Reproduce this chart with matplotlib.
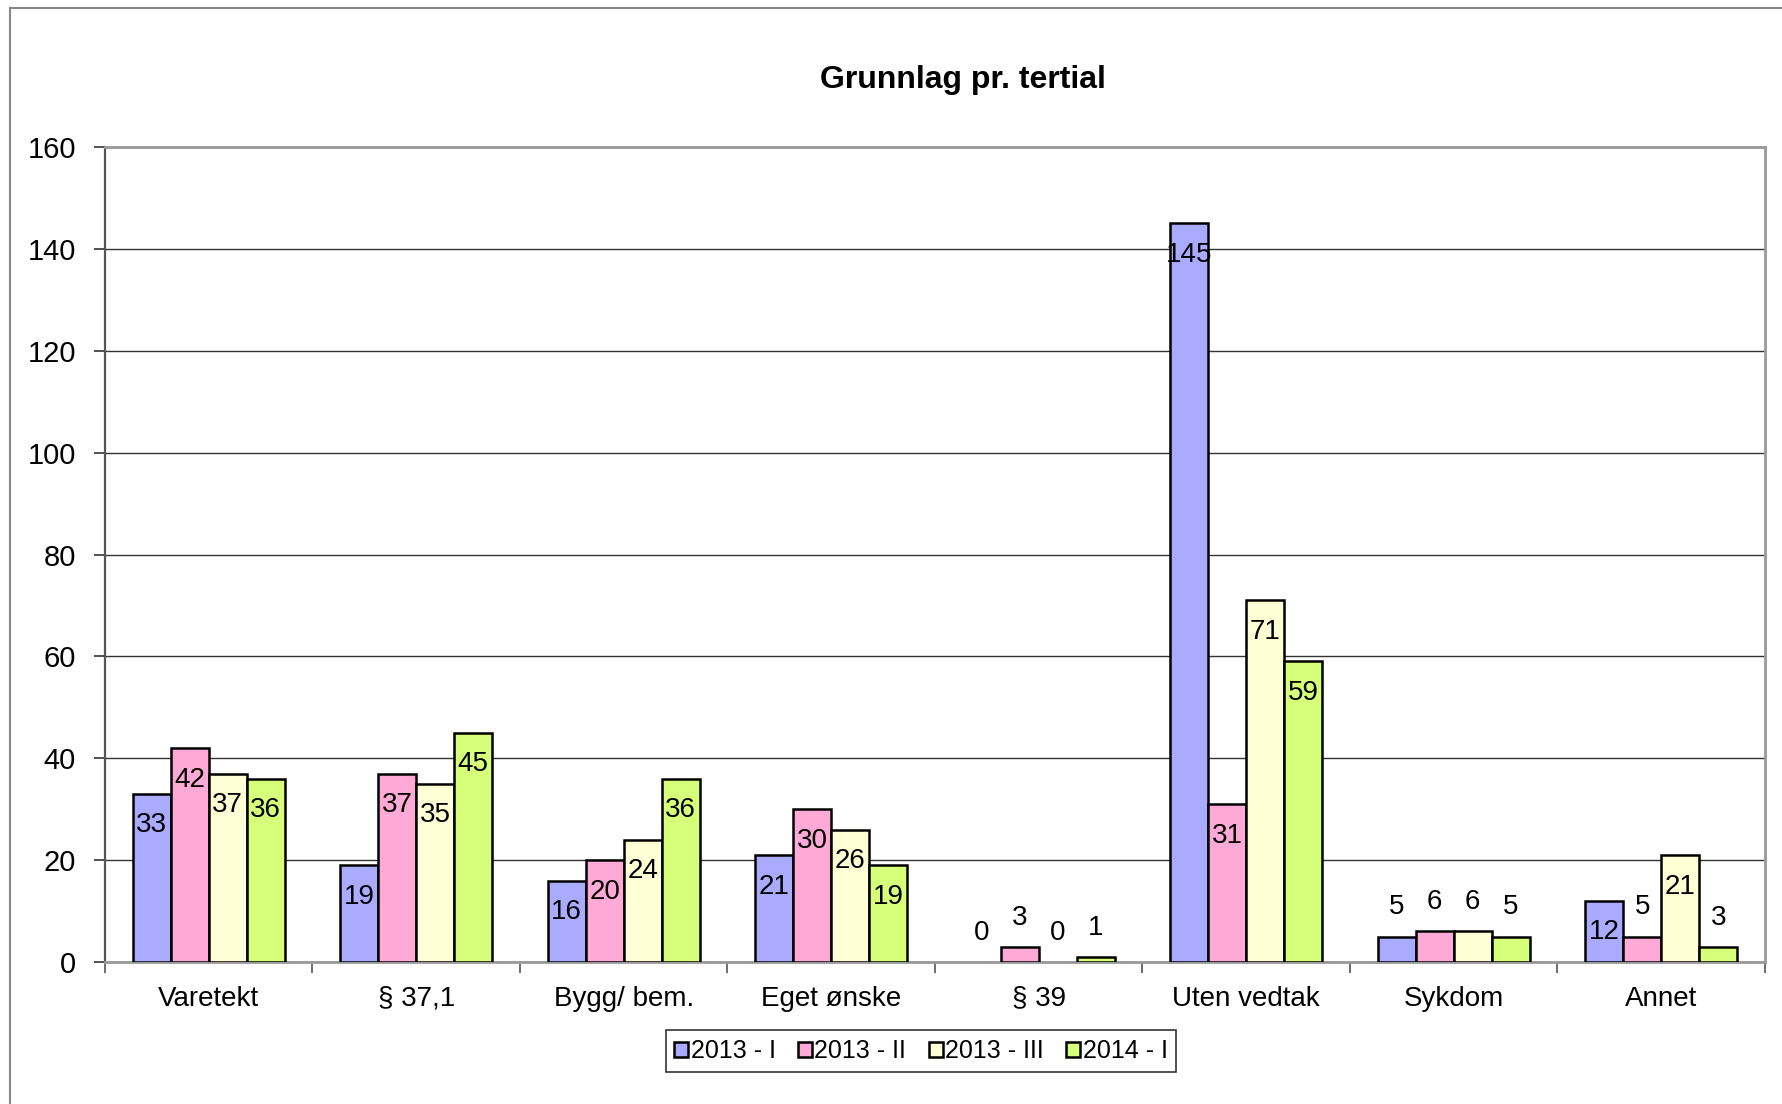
import matplotlib
matplotlib.use('Agg')
import matplotlib.pyplot as plt
from matplotlib.lines import Line2D
import numpy as np

plt.rcParams['font.family'] = ['Liberation Sans', 'DejaVu Sans']

# Data
kategorier = ['Varetekt', '§ 37,1', 'Bygg/ bem.', 'Eget ønske', '§ 39', 'Uten vedtak', 'Sykdom', 'Annet']
serier = ['2013 - I', '2013 - II', '2013 - III', '2014 - I']
t2013_1 = [33, 19, 16, 21, 0, 145, 5, 12]
t2013_2 = [42, 37, 20, 30, 3, 31, 6, 5]
t2013_3 = [37, 35, 24, 26, 0, 71, 6, 21]
t2014_1 = [36, 45, 36, 19, 1, 59, 5, 3]
farger = ['#AAAAFF', '#FFAAD6', '#FFFFD6', '#D6FF7A']

W, H = 1783, 1104
fig = plt.figure(figsize=(W / 100, H / 100), dpi=100)
ax = fig.add_axes([105 / W, 1 - 962 / H, 1660 / W, 815 / H])

# ytre ramme rundt diagrammet
fig.add_artist(Line2D([10 / W, 1.0], [1 - 8 / H, 1 - 8 / H], transform=fig.transFigure,
                      color='#888888', lw=1.5))
fig.add_artist(Line2D([10 / W, 10 / W], [1 - 8 / H, 0.0], transform=fig.transFigure,
                      color='#888888', lw=1.5))

x = np.arange(len(kategorier))
bw = 0.183
alle = [t2013_1, t2013_2, t2013_3, t2014_1]
for i, (verdier, navn, farge) in enumerate(zip(alle, serier, farger)):
    pos = x + (i - 1.5) * bw
    kanter = ['black' if v > 0 else 'none' for v in verdier]
    ax.bar(pos, verdier, width=bw, color=farge, edgecolor=kanter, linewidth=1.8,
           label=navn, zorder=3)
    for px, v in zip(pos, verdier):
        if v >= 10:
            ty = v - 6.2
        else:
            ty = v + 5.7
        ax.text(px, ty, str(v), ha='center', va='center', fontsize=20, zorder=4)

ax.set_xlim(-0.5, len(kategorier) - 0.5)
ax.set_ylim(0, 160)
ax.set_yticks(np.arange(0, 161, 20))
ax.yaxis.grid(True, color='#333333', linewidth=1.0, zorder=0)
ax.set_axisbelow(True)

ax.set_xticks(np.arange(len(kategorier) + 1) - 0.5)
ax.set_xticklabels([])
ax.set_xticks(x, minor=True)
ax.set_xticklabels(kategorier, minor=True, fontsize=20)
ax.tick_params(axis='x', which='minor', length=0, pad=17)
ax.tick_params(axis='x', which='major', length=8, width=1.2, color='#555555', direction='out')
ax.tick_params(axis='y', length=8, width=1.2, color='#333333', labelsize=21, pad=13)

for side in ['top', 'right', 'bottom']:
    ax.spines[side].set_color('#999999')
    ax.spines[side].set_linewidth(2)
ax.spines['left'].set_color('#555555')
ax.spines['left'].set_linewidth(1.6)

fig.text(963 / W, 1 - 80 / H, 'Grunnlag pr. tertial', ha='center', va='center',
         fontsize=23, fontweight='bold')

leg = fig.legend(loc='center', bbox_to_anchor=(921 / W, 1 - 1051 / H), ncol=4,
                 fontsize=18, frameon=True, fancybox=False, edgecolor='black',
                 handlelength=0.55, handleheight=0.55, handletextpad=0.1,
                 columnspacing=0.9, borderpad=0.35)
leg.get_frame().set_linewidth(1.2)

fig.savefig('out.png', dpi=100)
